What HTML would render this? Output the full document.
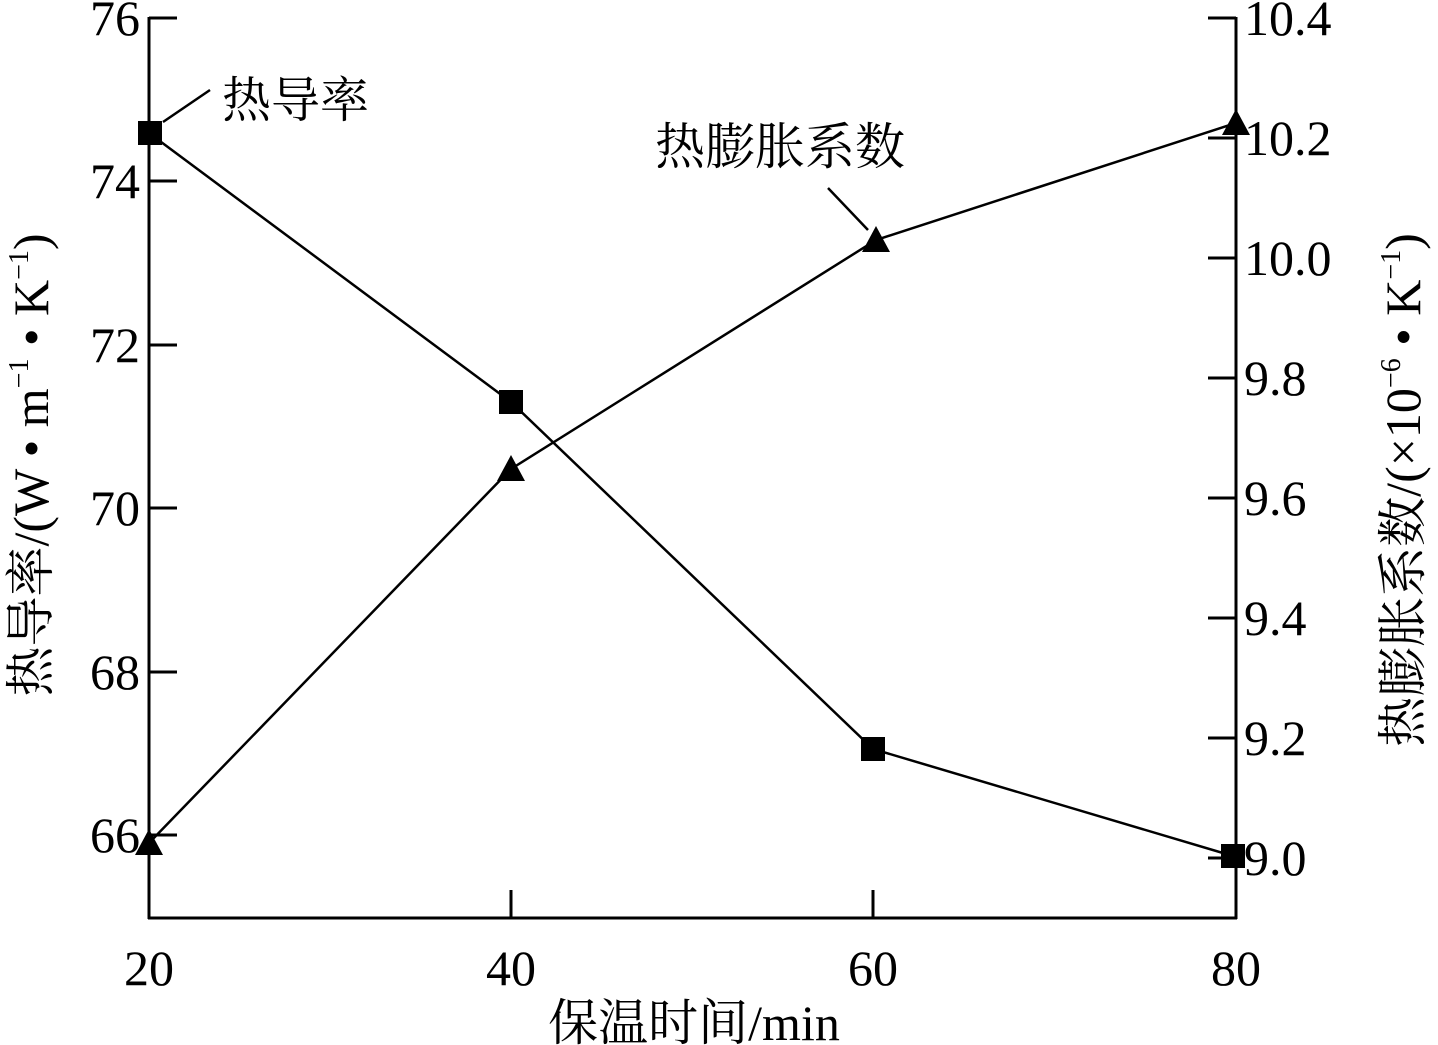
<!DOCTYPE html>
<html><head><style>body{margin:0;background:#fff}svg{display:block}</style></head><body>
<svg width="1438" height="1045" viewBox="0 0 1438 1045" xmlns="http://www.w3.org/2000/svg" font-family="'Liberation Serif','Noto Serif CJK SC',serif" fill="#000">
<g stroke="#000" stroke-width="3" fill="none">
<line x1="149" y1="17" x2="149" y2="919"/>
<line x1="1236" y1="17" x2="1236" y2="919"/>
<line x1="148" y1="918" x2="1237" y2="918"/>
<path d="M149 18h28M149 181h28M149 345h28M149 508h28M149 672h28M149 835h28"/>
<path d="M1236 18h-28M1236 138h-28M1236 258h-28M1236 378h-28M1236 498h-28M1236 618h-28M1236 738h-28M1236 858h-28"/>
<path d="M511 918v-28M873 918v-28"/>
<polyline stroke-width="2.5" points="149,133 511,402 873,749 1233,856"/>
<polyline stroke-width="2.5" points="149,843 511,469 876,240 1236,123"/>
<line stroke-width="2.5" x1="163" y1="122" x2="210" y2="90"/>
<line stroke-width="2.5" x1="828" y1="188" x2="868" y2="230"/>
</g>
<g>
<rect x="138" y="121" width="24" height="24"/><rect x="499" y="390" width="24" height="24"/>
<rect x="861" y="737" width="24" height="24"/><rect x="1221" y="844" width="24" height="24"/>
<polygon points="149,829 135,855 163,855"/><polygon points="511,455 497,481 525,481"/>
<polygon points="876,226 862,252 890,252"/><polygon points="1236,109 1222,135 1250,135"/>
</g>
<g font-size="50" text-anchor="end">
<text x="140" y="35">76</text><text x="140" y="198">74</text><text x="140" y="362">72</text>
<text x="140" y="525">70</text><text x="140" y="689">68</text><text x="140" y="852">66</text>
</g>
<g font-size="50" text-anchor="start">
<text x="1244" y="35">10.4</text><text x="1244" y="155">10.2</text><text x="1244" y="275">10.0</text>
<text x="1244" y="395">9.8</text><text x="1244" y="515">9.6</text><text x="1244" y="635">9.4</text>
<text x="1244" y="755">9.2</text><text x="1244" y="875">9.0</text>
</g>
<g font-size="50" text-anchor="middle">
<text x="149" y="985">20</text><text x="511" y="985">40</text><text x="873" y="985">60</text><text x="1236" y="985">80</text>
<text x="694" y="1040">保温时间/min</text>
</g>
<text x="222" y="117" font-size="49">热导率</text>
<text x="655" y="164" font-size="50">热膨胀系数</text>
<text transform="translate(48,465) rotate(-90)" font-size="50" text-anchor="middle">热导率/(W • m<tspan font-size="28" dy="-20">−1</tspan><tspan dy="20"> • K</tspan><tspan font-size="28" dy="-20">−1</tspan><tspan dy="20">)</tspan></text>
<text transform="translate(1420,490) rotate(-90)" font-size="50" text-anchor="middle">热膨胀系数/(×10<tspan font-size="28" dy="-20">−6</tspan><tspan dy="20"> • K</tspan><tspan font-size="28" dy="-20">−1</tspan><tspan dy="20">)</tspan></text>
</svg>
</body></html>
